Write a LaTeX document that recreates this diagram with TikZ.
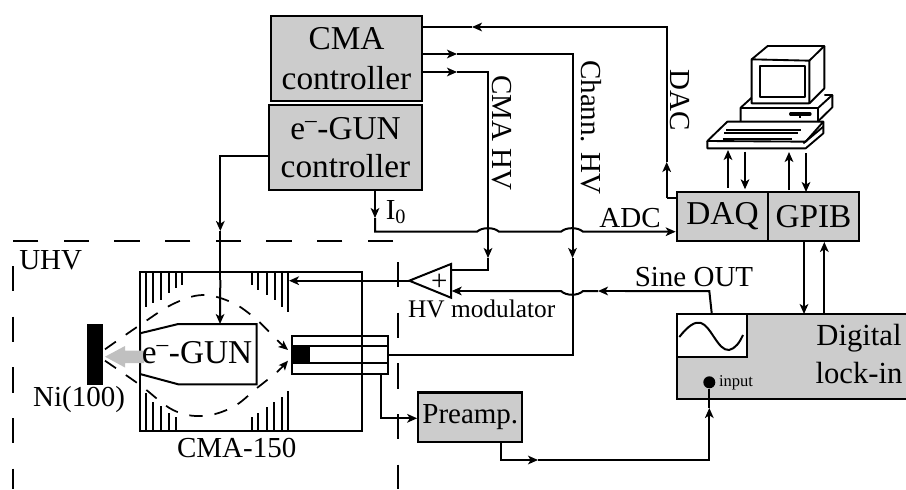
\documentclass[tikz,border=0pt]{standalone}
\usepackage{fontspec}
\setmainfont{Liberation Serif}
\usetikzlibrary{arrows.meta}
\definecolor{boxgray}{RGB}{204,204,204}
\definecolor{beamgray}{RGB}{192,192,192}
\tikzset{every picture/.style={line width=1.5pt},
  wire/.style={line width=1.5pt},
  tipwire/.style={wire,-{Stealth[length=7.5pt,width=6.5pt,inset=2pt]}},
  crate/.style={draw,fill=boxgray,line width=1.7pt,inner sep=0pt,align=center},
  hatch/.style={line width=1.5pt},
  vacuum/.style={line width=1.2pt,dash pattern={on 19pt off 19pt}},
  lens/.style={line width=1.3pt,dash pattern={on 10pt off 9pt}},
  big/.style={font=\fontsize{25}{28}\selectfont},
  mid/.style={font=\fontsize{21.75}{26}\selectfont,inner sep=0pt},
}
\begin{document}
\begin{tikzpicture}[x=0.75pt,y=0.75pt,yscale=-1,xscale=1]
	\useasboundingbox (0,0) rectangle (906,489);

	%Shape: Controllers
	\node [crate,big,minimum width=113pt,minimum height=64pt] (cmactrl) at (346.5,58.5) {CMA\\[2pt]controller};
	\node [crate,big,minimum width=115pt,minimum height=64pt] (gunctrl) at (345.5,147.5) {e\textsuperscript{--}-GUN\\controller};
	\node [crate,big,minimum width=68.5pt,minimum height=36.5pt] (daq) at (722.5,216.5) {DAQ};
	\node [crate,big,minimum width=68.5pt,minimum height=36.5pt] (gpib) at (813.5,216.5) {GPIB};
	\node [crate,minimum width=78pt,minimum height=37pt,font=\fontsize{21.75}{26}\selectfont] (preamp) at (470.3,417.2) {Preamp.};

	%Shape: Lock-in
	\fill [boxgray] (677,314.3) rectangle (906,399.3);
	\draw [line width=1.7pt] (906,314.3) -- (677,314.3) -- (677,399.3) -- (906,399.3);
	\node [draw,fill=white,line width=1.7pt,inner sep=0pt,minimum width=52.5pt,minimum height=32pt] (sinebox) at (711.8,335.5) {};
	\draw [wire] (679.3,337) .. controls (688,326) and (695,321) .. (701,323) .. controls (711,326) and (718,351) .. (729,350) .. controls (735,349) and (740,342) .. (743,335);
	\node [mid,align=center,font=\fontsize{23}{28}\selectfont] (lockin) at (859,354) {Digital\\lock-in};
	\node [circle,fill=black,inner sep=0pt,minimum size=9pt] (inputdot) at (709.3,382.3) {};
	\node [font=\fontsize{12.4}{14}\selectfont,inner sep=0pt] (inputlabel) at (736,382.3) {input};

	%Shape: Vacuum chamber
	\draw [vacuum] (393,240.7) -- (13,240.7) -- (13,489);
	\draw [vacuum] (398,262) -- (398,489);
	\node [mid] (uhv) at (50.7,260) {UHV};

	%Shape: CMA-150
	\node [draw,line width=1.5pt,inner sep=0pt,minimum width=166.5pt,minimum height=119pt] (cma) at (250.9,351.6) {};
	\foreach \hx/\hy in {140/311.7,145.7/307.3,152.7/303.3,161/300,169/293.3,175.7/288.3,181.7/285,251.7/285,258.3/290,266.7/295,275/300,281.7/306.7,288.3/311.7}
		\draw [hatch] (\hx,272.3) -- (\hx,\hy);
	\foreach \hx/\hy in {140/392.7,145.7/393.3,152.7/401.7,161/406,169/413.3,175.7/416.7,251.7/417.3,258.3/413.3,266.7/406.7,274/401.7,281.7/396.7,288.3/391}
		\draw [hatch] (\hx,431) -- (\hx,\hy);
	\node [mid] (cmalabel) at (236.7,448) {CMA-150};

	%Shape: Sample
	\node [fill=black,inner sep=0pt,minimum width=12pt,minimum height=45.7pt] (sample) at (94.7,354.6) {};
	\node [mid] (nilabel) at (79,400) {Ni(100)};

	%Shape: Gun
	\draw [line width=1.5pt] (140,333.3) -- (178.3,324) -- (256.7,324) -- (256.7,384.3) -- (178.3,384.3) -- (140,374) -- cycle ;
	\fill [beamgray] (144,350.5) -- (125,350.5) -- (125,346) -- (105,356.7) -- (125,367.5) -- (125,363) -- (144,363) -- cycle ;
	\node [font=\fontsize{25}{28}\selectfont,inner sep=0pt] (gunlabel) at (197,352.7) {e\textsuperscript{--}-GUN};
	\coordinate (guntop) at (220,324);

	%Shape: Channeltron
	\node [draw,line width=1.5pt,inner sep=0pt,minimum width=71.5pt,minimum height=28.5pt] (chann) at (340,355) {};
	\draw [wire] (chann.west |- 0,346) -- (chann.east |- 0,346);
	\draw [wire] (chann.west |- 0,363.3) -- (chann.east |- 0,363.3);
	\fill (292.3,346) rectangle (310,363.3);

	%Straight Lines lens
	\draw [lens,-{Stealth[length=7pt,width=6pt,inset=1.5pt]}] plot [smooth,tension=0.6] coordinates {(105,349.3) (140,325) (173,304) (203,295) (233,303) (257,320) (277,340) (288,350)};
	\draw [lens,-{Stealth[length=7pt,width=6pt,inset=1.5pt]}] plot [smooth,tension=0.6] coordinates {(105,360.7) (140,385) (173,410) (203,416) (233,407) (257,388) (277,372) (288,360.7)};

	%Shape: HV modulator
	\node [draw=none,inner sep=0pt] (hvplus) at (439.3,282.3) {\fontsize{21.75}{26}\selectfont +};
	\coordinate (hvapex) at (409.3,280.7);
	\draw [line width=1.5pt] (451,264) -- (hvapex) -- (451,297.7) -- cycle ;
	\node [font=\fontsize{19}{22}\selectfont,inner sep=0pt] (hvlabel) at (481.7,309.3) {HV modulator};

	%Straight Lines DAC
	\coordinate (dacbend) at (666.7,198);
	\draw [wire] (daq.west |- dacbend) -- (dacbend) ;
	\draw [tipwire] (dacbend) -- (666.7,162) ;
	\draw [wire] (666.7,162) -- (666.7,27) -- (500,27) ;
	\draw [tipwire] (500,27) -- (472,27) ;
	\draw [wire] (472,27) -- (cmactrl.east |- 0,27) ;

	%Straight Lines Chann. HV
	\draw [tipwire] (cmactrl.east |- 0,54) -- (457,54) ;
	\draw [wire] (457,54) -- (572.5,54) -- (572.5,225) ;
	\draw [tipwire] (572.5,225) -- (572.5,258) ;
	\draw [wire] (572.5,258) -- (572.5,354.7) -- (chann.east |- 0,354.7) ;

	%Straight Lines CMA HV
	\draw [tipwire] (cmactrl.east |- 0,72) -- (457,72) ;
	\draw [wire] (457,72) -- (488,72) -- (488,225) ;
	\draw [tipwire] (488,225) -- (488,258) ;
	\draw [wire] (488,258) -- (488,270) -- (451,270) ;

	%Straight Lines ADC
	\draw [tipwire] (gunctrl.south -| 375,0) -- (375,218) ;
	\draw [tipwire] (375,218) -- (375,231.7) -- (477,231.7) .. controls (482,227) and (494,227) .. (499,231.7) -- (561,231.7) .. controls (566,227) and (578,227) .. (583,231.7) -- (daq.west |- 0,231.7) ;

	%Straight Lines gun
	\coordinate (gunbend) at (220.3,155.5);
	\draw [wire] (gunctrl.west |- gunbend) -- (gunbend) -- (220.3,205) ;
	\draw [tipwire] (220.3,205) -- (220.3,231) ;
	\draw [wire] (220.3,231) -- (220.3,280) ;
	\draw [tipwire] (220.3,280) -- (guntop) ;

	%Straight Lines HV to CMA
	\draw [tipwire] (hvapex) -- (289,280.7) ;

	%Straight Lines Sine OUT
	\draw [wire] (sinebox.north |- 0,314) -- (709.3,291) -- (625,291) ;
	\draw [tipwire] (625,291) -- (598,291) ;
	\draw [wire] (598,291) -- (583,291) .. controls (578,296) and (566,296) .. (561,291) -- (480,291) ;
	\draw [tipwire] (480,291) -- (451.7,291) ;

	%Straight Lines Preamp
	\coordinate (outbend) at (381,418.3);
	\draw [wire] (381,374) -- (outbend) -- (395,418.3) ;
	\draw [tipwire] (395,418.3) -- (preamp.west |- outbend) ;
	\draw [wire] (preamp.south -| 501,0) -- (501,460) -- (515,460) ;
	\draw [tipwire] (515,460) -- (538,460) ;
	\draw [wire] (538,460) -- (709.3,460) -- (709.3,430) ;
	\draw [tipwire] (709.3,430) -- (709.3,408) ;
	\draw [wire] (709.3,408) -- (inputdot) ;

	%Straight Lines GPIB
	\draw [tipwire] (gpib.south -| 804,0) -- (804,314) ;
	\draw [tipwire] (824.3,314) -- (gpib.south -| 824.3,0) ;

	%Straight Lines computer
	\draw [tipwire] (728,187.7) -- (728,150) ;
	\draw [tipwire] (745,151.7) -- (745,189.3) ;
	\draw [tipwire] (789,190) -- (789,152) ;
	\draw [tipwire] (806,153) -- (806,192) ;

	%Shape: Computer
	\begin{scope}[x=0.25pt,y=0.25pt,shift={(480pt,0pt)},line width=1.4pt,line join=round]
		\draw (335,178) -- (508,182) -- (508,310) -- (335,310) -- cycle ;
		\draw (335,178) -- (383,138) -- (553,138) -- (508,182) ;
		\draw (553,138) -- (553,265) -- (508,310) ;
		\draw (360,197) rectangle (494,292) ;
		\draw (335,293) -- (302,323) -- (302,365) ;
		\draw (302,325) -- (533,325) -- (533,365) ;
		\draw (553,285) -- (577,285) -- (533,325) ;
		\draw (577,285) -- (577,322) -- (533,365) ;
		\draw [line width=2.5pt,line cap=round] (452,342) -- (510,342) ;
		\draw [line width=2pt] (480,342) -- (480,353) ;
		\draw (202,423) -- (262,365) -- (550,365) -- (497,425) -- cycle ;
		\draw (202,423) -- (202,445) -- (497,445) -- (550,400) -- (550,365) ;
		\draw (258,390) -- (482,390) ;
		\draw (253,400) -- (475,400) ;
		\draw (248,417) -- (455,417) ;
		\draw (490,430) -- (550,380) ;
	\end{scope}

	% Text Node
	\node [mid,rotate=-90] (cmahv) at (501.7,133) {CMA HV};
	% Text Node
	\node [mid,rotate=-90] (chamhv) at (591,127.5) {Chann. HV};
	% Text Node
	\node [mid,rotate=-90] (daclabel) at (680,100) {DAC};
	% Text Node
	\node [mid] (adclabel) at (630,218) {ADC};
	% Text Node
	\node [mid] (sinelabel) at (694,277) {Sine OUT};
	% Text Node
	\node [mid] (izero) at (396,212) {I\textsubscript{0}};

\end{tikzpicture}
\end{document}
